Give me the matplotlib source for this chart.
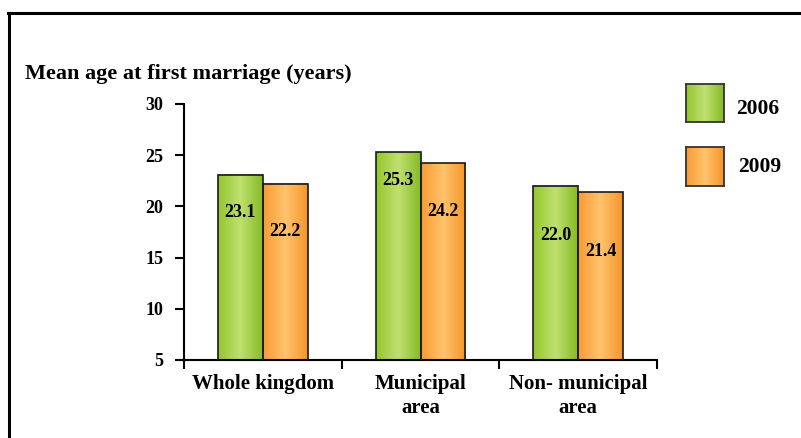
import matplotlib
matplotlib.use("Agg")
import matplotlib.pyplot as plt
import numpy as np
from matplotlib.lines import Line2D
from matplotlib.colors import LinearSegmentedColormap

categories = ["Whole kingdom", "Municipal\narea", "Non- municipal\narea"]
years = ["2006", "2009"]
age_2006 = [23.1, 25.3, 22.0]
age_2009 = [22.2, 24.2, 21.4]

# how far below the top of each bar its value label sits (in years)
drop_2006 = [3.65, 2.8, 4.8]
drop_2009 = [4.7, 4.65, 5.85]

green = LinearSegmentedColormap.from_list("g", ["#94c72e", "#c0e070", "#86bb26"])
orange = LinearSegmentedColormap.from_list("o", ["#f89c35", "#ffc36c", "#f4962a"])

plt.rcParams["font.family"] = ["Liberation Serif", "DejaVu Serif"]
plt.rcParams["font.weight"] = "bold"

W, H = 801, 438
fig = plt.figure(figsize=(W / 100, H / 100), dpi=100)
ax = fig.add_axes([184 / W, 1 - 360 / H, 473 / W, 256 / H])

grad = np.linspace(0, 1, 64).reshape(1, -1)
bw = 0.285
x = np.arange(len(categories))


def shaded_bars(xs, vals, cmap):
    bars = ax.bar(xs, vals, width=bw, facecolor="none", edgecolor="#1a1a1a",
                  linewidth=1.2, zorder=3)
    for b in bars:
        x0, x1 = b.get_x(), b.get_x() + b.get_width()
        ax.imshow(grad, cmap=cmap, extent=(x0, x1, 0, b.get_height()),
                  aspect="auto", zorder=2, interpolation="bilinear")
    return bars


shaded_bars(x - bw / 2, age_2006, green)
shaded_bars(x + bw / 2, age_2009, orange)

for i in range(len(categories)):
    ax.text(x[i] - bw / 2, age_2006[i] - drop_2006[i], f"{age_2006[i]:.1f}",
            ha="center", va="center", fontsize=13, fontweight="bold", zorder=4)
    ax.text(x[i] + bw / 2, age_2009[i] - drop_2009[i], f"{age_2009[i]:.1f}",
            ha="center", va="center", fontsize=13, fontweight="bold", zorder=4)

ax.set_xlim(-0.5, 2.5)
ax.set_ylim(5, 30)
ax.set_yticks([5, 10, 15, 20, 25, 30])
ax.set_xticks(x, categories, fontsize=15, fontweight="bold", linespacing=1.3)
ax.set_xticks([-0.5, 0.5, 1.5, 2.5], minor=True)
ax.tick_params(axis="x", which="major", length=0, pad=10)
ax.tick_params(axis="x", which="minor", length=6.5, width=1.5, direction="out")
ax.tick_params(axis="y", length=6.5, width=1.5, pad=8.5, labelsize=13)
for lab in ax.get_yticklabels():
    lab.set_fontweight("bold")
for s in ["top", "right"]:
    ax.spines[s].set_visible(False)
for s in ["left", "bottom"]:
    ax.spines[s].set_linewidth(1.5)

fig.text(25 / W, 1 - 79 / H, "Mean age at first marriage (years)",
         fontsize=16, fontweight="bold", va="baseline", ha="left")

# legend swatches
swatches = [(84, 122, green, years[0], 736, 109), (147, 186, orange, years[1], 738, 167)]
for top, bot, cmap, label, tx, ty in swatches:
    lax = fig.add_axes([686 / W, 1 - bot / H, 38 / W, (bot - top) / H])
    lax.imshow(grad, cmap=cmap, aspect="auto", interpolation="bilinear")
    lax.set_xticks([])
    lax.set_yticks([])
    for sp in lax.spines.values():
        sp.set_linewidth(1.3)
        sp.set_color("#333333")
    fig.text(tx / W, 1 - ty / H, label, fontsize=15.5, fontweight="bold",
             va="center", ha="left")

# frame lines along the top and left edge
fig.add_artist(Line2D([8 / W, 1], [1 - 12.5 / H, 1 - 12.5 / H], color="black",
                      linewidth=2.2, transform=fig.transFigure))
fig.add_artist(Line2D([8.5 / W, 8.5 / W], [0, 1 - 12.5 / H], color="black",
                      linewidth=2.2, transform=fig.transFigure))

fig.savefig("out.png", dpi=100)
